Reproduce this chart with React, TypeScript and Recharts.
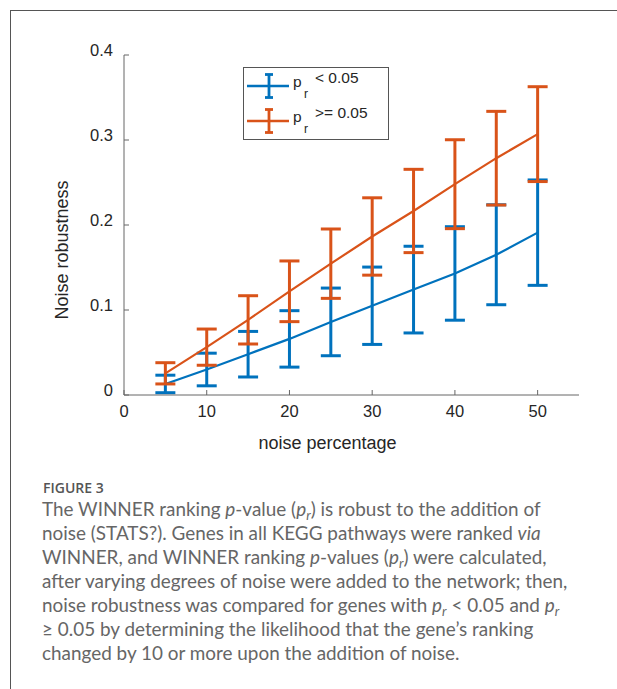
import { LineChart, Line, XAxis, YAxis, ErrorBar, Label } from "recharts";

const noisePct = [5, 10, 15, 20, 25, 30, 35, 40, 45, 50];
const lowMean = [0.013, 0.03, 0.048, 0.066, 0.086, 0.105, 0.124, 0.143, 0.165, 0.191];
const lowErr = [0.0103, 0.0192, 0.0268, 0.0332, 0.0398, 0.0455, 0.051, 0.055, 0.0588, 0.062];
const highMean = [0.0255, 0.0563, 0.0884, 0.122, 0.1545, 0.1865, 0.2165, 0.248, 0.2786, 0.3069];
const highErr = [0.0125, 0.0213, 0.0284, 0.0357, 0.0408, 0.0455, 0.049, 0.0523, 0.0551, 0.0558];

const xTicks = [0, 10, 20, 30, 40, 50];
const yTicks = [0, 0.1, 0.2, 0.3, 0.4];
const legendLabels = ["< 0.05", ">= 0.05"];

const BLUE = "#0072BD";
const ORANGE = "#D95319";
const AXIS = "#666666";
const FONT = '"Liberation Sans", Arial, sans-serif';

const data = noisePct.map((n, i) => ({
  noise: n,
  low: lowMean[i],
  lowErr: lowErr[i],
  high: highMean[i],
  highErr: highErr[i],
}));

const Sub = ({ children }: { children: string }) => (
  <sub style={{ fontSize: "0.7em", verticalAlign: "baseline", position: "relative", top: "0.3em", lineHeight: 0 }}>
    {children}
  </sub>
);

const captionLines = [
  <>The WINNER ranking <i>p</i>-value (<i>p<Sub>r</Sub></i>) is robust to the addition of</>,
  <>noise (STATS?). Genes in all KEGG pathways were ranked <i>via</i></>,
  <>WINNER, and WINNER ranking <i>p</i>-values (<i>p<Sub>r</Sub></i>) were calculated,</>,
  <>after varying degrees of noise were added to the network; then,</>,
  <>noise robustness was compared for genes with <i>p<Sub>r</Sub></i> &lt; 0.05 and <i>p<Sub>r</Sub></i></>,
  <>≥ 0.05 by determining the likelihood that the gene’s ranking</>,
  <>changed by 10 or more upon the addition of noise.</>,
];

const LegendBox = () => {
  const rows = [
    { color: BLUE, y: 19, label: legendLabels[0] },
    { color: ORANGE, y: 54, label: legendLabels[1] },
  ];
  return (
    <svg width={146} height={73} style={{ display: "block" }}>
      <rect x={0.5} y={0.5} width={145} height={72} fill="#fff" stroke="#555" strokeWidth={1} />
      {rows.map((r) => (
        <g key={r.label}>
          <line x1={4} x2={46} y1={r.y} y2={r.y} stroke={r.color} strokeWidth={2.5} />
          <line x1={26} x2={26} y1={r.y - 11.5} y2={r.y + 11.5} stroke={r.color} strokeWidth={2.8} />
          <line x1={22} x2={30} y1={r.y - 11.5} y2={r.y - 11.5} stroke={r.color} strokeWidth={2.8} />
          <line x1={22} x2={30} y1={r.y + 11.5} y2={r.y + 11.5} stroke={r.color} strokeWidth={2.8} />
          <text x={50} y={r.y + 1} fontSize={15.5} fontFamily={FONT} fill="#262626">p</text>
          <text x={61} y={r.y + 12} fontSize={12} fontFamily={FONT} fill="#262626">r</text>
          <text x={72} y={r.y - 3} fontSize={15.5} fontFamily={FONT} fill="#262626">{r.label}</text>
        </g>
      ))}
    </svg>
  );
};

export default function App() {
  return (
    <div style={{ position: "absolute", left: 0, top: 0, width: 617, height: 689, background: "#fff", overflow: "hidden" }}>
      <div
        style={{
          position: "absolute",
          left: 10,
          top: 10,
          right: 0,
          bottom: 0,
          borderTop: "1.5px solid #555",
          borderLeft: "1.5px solid #555",
        }}
      />
      <div style={{ position: "absolute", left: 0, top: 0 }}>
        <LineChart width={617} height={470} data={data} margin={{ top: 55, right: 38, left: 64, bottom: 15 }}>
          <XAxis
            dataKey="noise"
            type="number"
            domain={[0, 55]}
            ticks={xTicks}
            height={60}
            stroke={AXIS}
            tickSize={-5}
            tickMargin={15}
            tick={{ fill: "#262626", fontSize: 16.5, fontFamily: FONT }}
          >
            <Label value="noise percentage" position="center" dx={-24} dy={18} fill="#262626" fontSize={18} fontFamily={FONT} />
          </XAxis>
          <YAxis
            type="number"
            domain={[0, 0.4]}
            ticks={yTicks}
            width={60}
            stroke={AXIS}
            tickSize={-5}
            tickMargin={16}
            tick={{ fill: "#262626", fontSize: 16.5, fontFamily: FONT, dy: -5 }}
          >
            <Label value="Noise robustness" position="center" angle={-90} dx={-32} dy={25} fill="#262626" fontSize={18} fontFamily={FONT} />
          </YAxis>
          <Line dataKey="low" stroke={BLUE} strokeWidth={2.2} dot={false} isAnimationActive={false}>
            <ErrorBar dataKey="lowErr" direction="y" width={10} stroke={BLUE} strokeWidth={3} />
          </Line>
          <Line dataKey="high" stroke={ORANGE} strokeWidth={2.2} dot={false} isAnimationActive={false}>
            <ErrorBar dataKey="highErr" direction="y" width={10} stroke={ORANGE} strokeWidth={3} />
          </Line>
        </LineChart>
      </div>
      <div style={{ position: "absolute", left: 243, top: 67 }}>
        <LegendBox />
      </div>
      <div
        style={{
          position: "absolute",
          left: 43,
          top: 479,
          fontFamily: '"Open Sans", sans-serif',
          fontWeight: 600,
          fontSize: 14,
          color: "#555",
          lineHeight: "18px",
        }}
      >
        FIGURE 3
      </div>
      <div
        style={{
          position: "absolute",
          left: 42,
          top: 497,
          fontFamily: "Lato, sans-serif",
          fontSize: 18.9,
          color: "#666",
          lineHeight: "24px",
          whiteSpace: "nowrap",
        }}
      >
        {captionLines.map((l, i) => (
          <div key={i}>{l}</div>
        ))}
      </div>
    </div>
  );
}
